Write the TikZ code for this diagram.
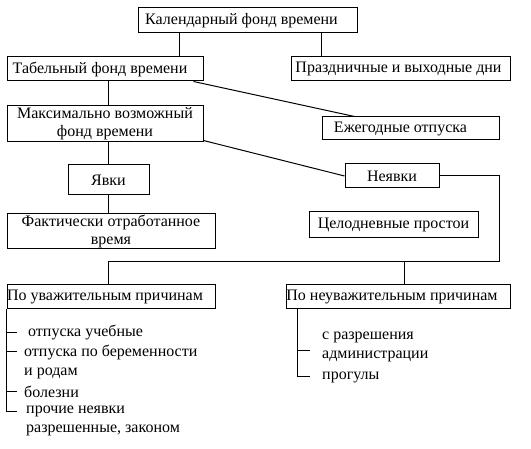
\documentclass[tikz,border=0pt]{standalone}
\usepackage{fontspec}
\setmainfont{Liberation Serif}
\usetikzlibrary{positioning}

\begin{document}
\begin{tikzpicture}[x=1pt,y=-1pt,
	box/.style={draw,line width=1pt,rectangle,inner sep=0pt,align=center,font=\fontsize{16}{18}\selectfont},
	item/.style={anchor=west,inner sep=0pt,align=left,font=\fontsize{16}{19}\selectfont}]
	\useasboundingbox (0,0) rectangle (531,449);
	\node[box,minimum width=219pt,minimum height=25pt] (kal) at (247.5,20.5) {Календарный фонд времени\hspace*{12pt}};
	\node[box,minimum width=196pt,minimum height=24pt] (tab) at (105,69) {Табельный фонд времени\hspace*{10pt}};
	\node[box,minimum width=219pt,minimum height=24pt] (praz) at (400.5,69) {Праздничные и выходные дни\hspace*{4pt}};
	\node[box,minimum width=177pt,minimum height=23pt] (ezh) at (410.5,128.5) {Ежегодные отпуска\hspace*{20pt}};
	\node[box,minimum width=196pt,minimum height=36pt] (max) at (105,124) {Максимально возможный\\фонд времени};
	\node[box,minimum width=81pt,minimum height=30pt] (yav) at (108.5,180) {Явки};
	\node[box,minimum width=208pt,minimum height=35pt] (fakt) at (111,231.5) {Фактически отработанное\\время};
	\node[box,minimum width=94pt,minimum height=24pt] (neyav) at (392,176) {Неявки};
	\node[box,minimum width=169pt,minimum height=26pt] (celo) at (393.5,225) {Целодневные простои};
	\node[box,minimum width=208pt,minimum height=24pt] (uvaz) at (111,297) {По уважительным причинам\hspace*{12pt}};
	\node[box,minimum width=224pt,minimum height=24pt] (neuv) at (398,297) {По неуважительным причинам\hspace*{12pt}};

	\coordinate (spine) at (108,0);
	\coordinate (kalL) at (179,0);
	\coordinate (kalR) at (321,0);
	\coordinate (busR) at (499,262);
	\coordinate (busM) at (404,262);

	\draw[line width=1pt] (kal.south -| kalL) -- (tab.north -| kalL);
	\draw[line width=1pt] (kal.south -| kalR) -- (praz.north -| kalR);
	\draw[line width=1pt] ([xshift=-10pt]tab.south east) -- ([xshift=33pt]ezh.north west);
	\draw[line width=1pt] (tab.south -| spine) -- (max.north -| spine);
	\draw[line width=1pt] ([yshift=2pt]max.south east) -- (neyav.west);
	\draw[line width=1pt] (max.south -| spine) -- (yav.north -| spine);
	\draw[line width=1pt] (yav.south -| spine) -- (fakt.north -| spine);
	\draw[line width=1pt] (neyav.east) -| (busR) -- (busR -| spine) -- (uvaz.north -| spine);
	\draw[line width=1pt] (busM) -- (neuv.north -| busM);

	\node[item] (u1) at (28,333) {отпуска учебные};
	\node[item] (u2) at (24,361.5) {отпуска по беременности\\и родам};
	\node[item] (u3) at (24,392) {болезни};
	\node[item] (u4) at (26,421) {прочие неявки\\разрешенные, законом};
	\draw[line width=1pt] (uvaz.south west) -- (uvaz.south west |- 0,412) -- ++(10,0);
	\foreach \y in {333,352,392}
		\draw[line width=1pt] (uvaz.south west |- 0,\y) -- ++(10,0);

	\node[item] (n1) at (322,346.5) {с разрешения\\администрации};
	\node[item] (n2) at (322,377) {прогулы};
	\draw[line width=1pt] ([xshift=12pt]neuv.south west) |- ([xshift=-12pt]n2.west);
	\draw[line width=1pt] ([xshift=12pt]neuv.south west |- 0,351) -- ++(12,0);
\end{tikzpicture}
\end{document}
